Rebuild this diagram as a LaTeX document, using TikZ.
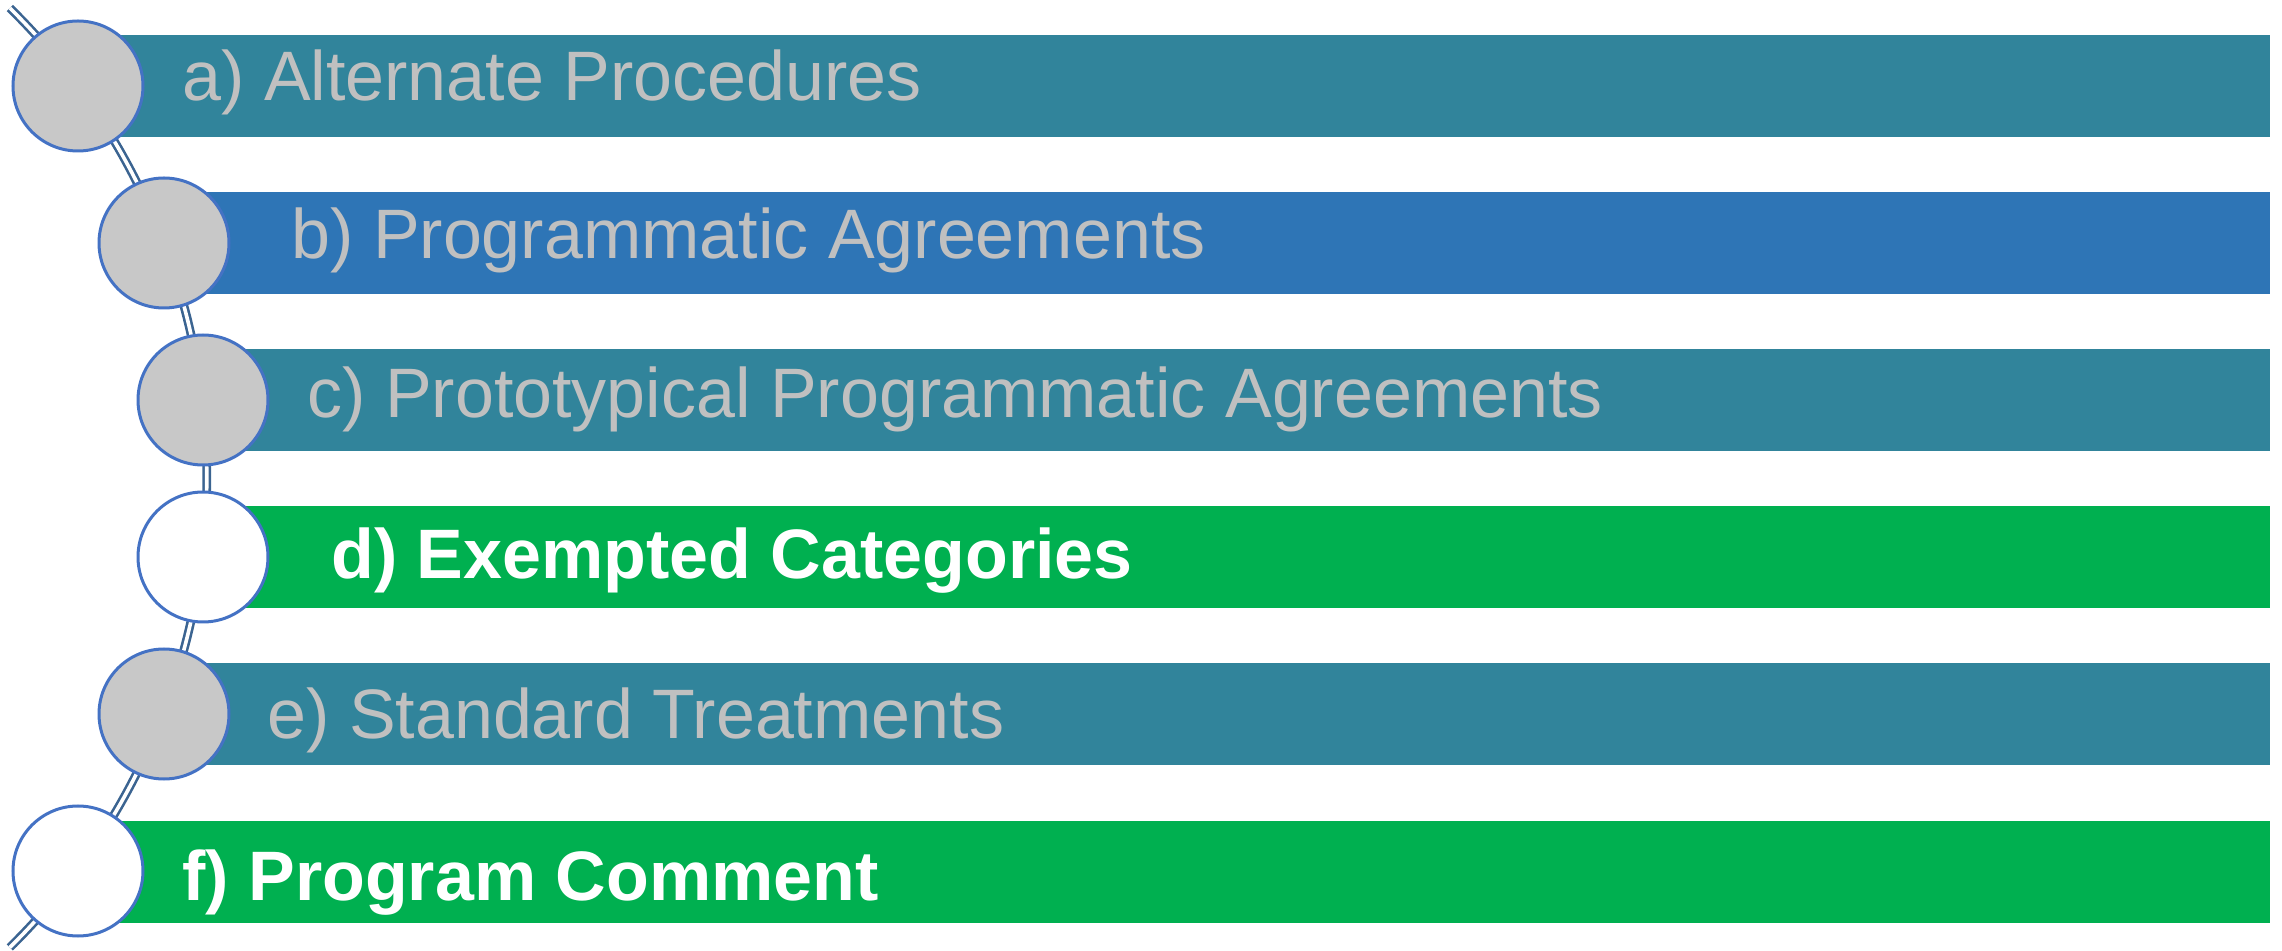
\documentclass[tikz,border=0pt]{standalone}
\usepackage{fontspec}
\setmainfont{Liberation Sans}
\definecolor{barteal}{HTML}{31849B}
\definecolor{barblue}{HTML}{2E75B6}
\definecolor{bargreen}{HTML}{00B050}
\definecolor{milefill}{HTML}{C8C8C8}
\definecolor{milerim}{HTML}{4472C4}
\definecolor{itemgray}{HTML}{C0C0C0}
\definecolor{trackcol}{HTML}{3B6491}
\tikzset{
  track/.style={draw=trackcol, double=white, line width=1.3pt, double distance=1.8pt},
  milestone/.style={circle, draw=milerim, line width=1.5pt, minimum size=65pt, inner sep=0pt, fill=milefill},
  done/.style={milestone, fill=white},
  itemtext/.style={anchor=base west, inner sep=0pt, text=itemgray, font=\fontsize{35pt}{40pt}\selectfont},
  itembold/.style={itemtext, text=white, font=\fontsize{35pt}{40pt}\selectfont\bfseries}
}
\begin{document}
\begin{tikzpicture}[x=0.5pt, y=-0.5pt]
  \useasboundingbox (0,0) rectangle (2282,951);
  % track behind the milestones
  \coordinate (tracktop) at (9.8,8.0);
  \draw[track] (tracktop) arc[start angle=-45.5, end angle=45.5, radius=658.6];
  % bars
  \fill[barteal]  (78,35)   rectangle (2270,137);
  \fill[barblue]  (164,192) rectangle (2270,294);
  \fill[barteal]  (203,349) rectangle (2270,451);
  \fill[bargreen] (203,506) rectangle (2270,608);
  \fill[barteal]  (164,663) rectangle (2270,765);
  \fill[bargreen] (78,821)  rectangle (2270,923);
  % milestones
  \node[milestone] (ma) at (78,86) {};
  \node[milestone] (mb) at (164,243) {};
  \node[milestone] (mc) at (203,400) {};
  \node[done]      (md) at (203,557) {};
  \node[milestone] (me) at (164,714) {};
  \node[done]      (mf) at (78,871) {};
  % labels
  \node[itemtext] (ta) at (182,101) {a) Alternate Procedures};
  \node[itemtext] (tb) at (291,259) {b) Programmatic Agreements};
  \node[itemtext] (tc) at (307,418) {c) Prototypical Programmatic Agreements};
  \node[itembold] (td) at (331,579) {d) Exempted Categories};
  \node[itemtext] (te) at (267,739) {e) Standard Treatments};
  \node[itembold] (tf) at (182,900) {f) Program Comment};
\end{tikzpicture}
\end{document}
